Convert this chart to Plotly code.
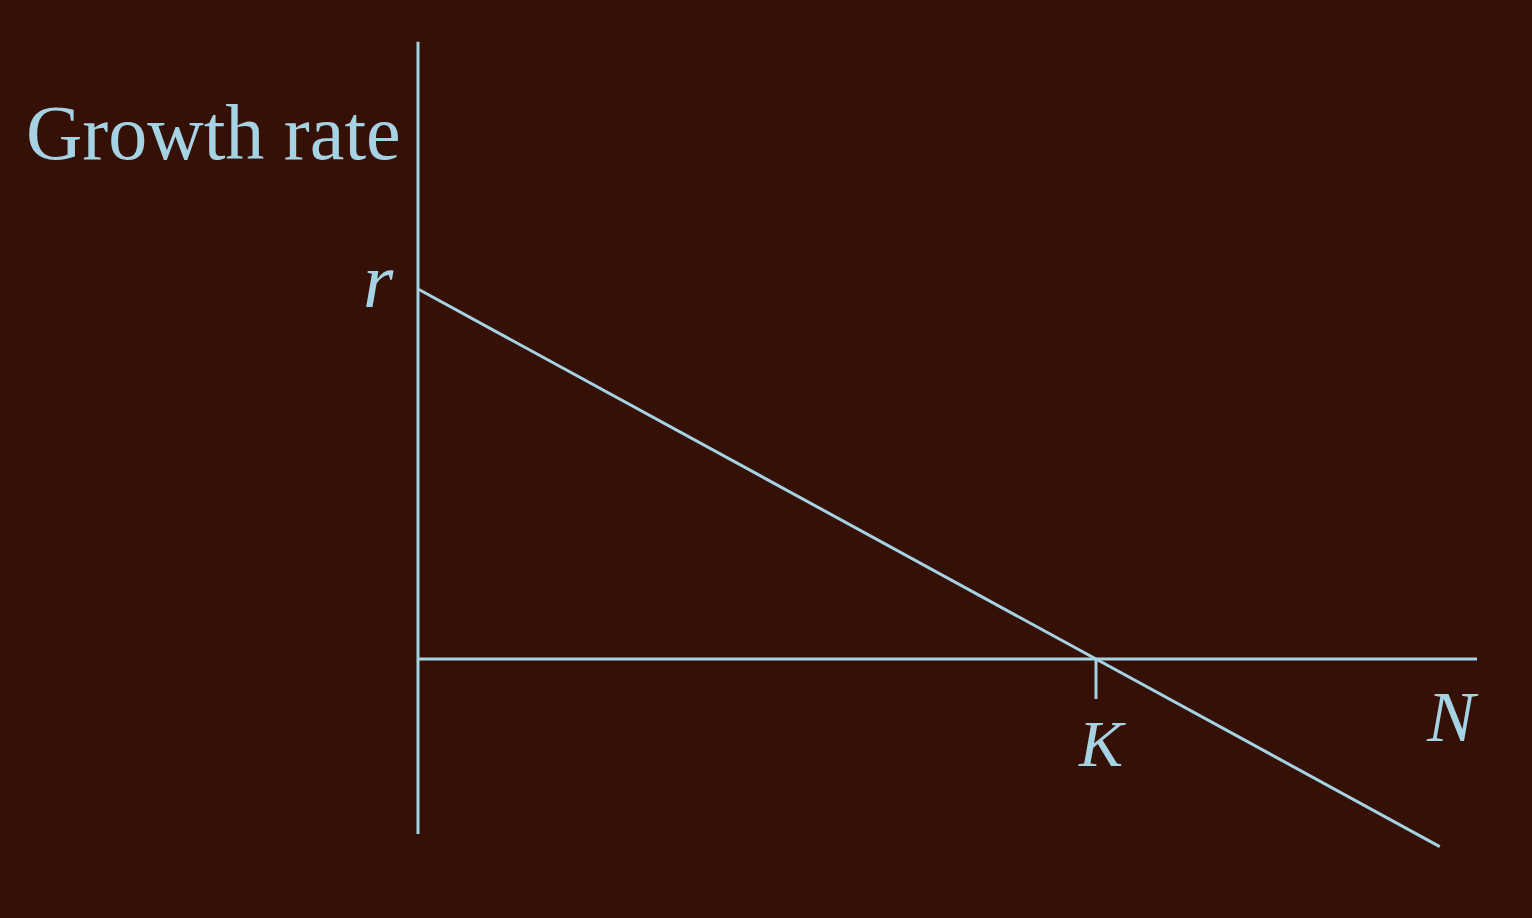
import plotly.graph_objects as go

# Data (N in units where K = 10, growth rate in units where r = 1)
r_value = 1.0
K_value = 10.0
line_N = [0.0, 15.07]
line_growth = [r_value * (1 - n / K_value) for n in line_N]

vaxis_N = [0.0, 0.0]
vaxis_growth = [-0.473, 1.668]
haxis_N = [0.0, 15.62]
haxis_growth = [0.0, 0.0]
ktick_N = [K_value, K_value]
ktick_growth = [0.0, -0.108]

BG = "#341006"
FG = "#a6d3e3"

fig = go.Figure()
for xs, ys in [(vaxis_N, vaxis_growth), (haxis_N, haxis_growth), (ktick_N, ktick_growth), (line_N, line_growth)]:
    fig.add_trace(go.Scatter(x=xs, y=ys, mode="lines",
                             line=dict(color=FG, width=3), hoverinfo="skip", showlegend=False))

serif = "Liberation Serif, Times New Roman, serif"
fig.add_annotation(x=(213 - 418) / 67.8, y=(659 - 132) / 370, xref="x", yref="y",
                   text="Growth rate", showarrow=False, xanchor="center", yanchor="middle",
                   font=dict(family=serif, size=78, color=FG))
fig.add_annotation(x=(378 - 418) / 67.8, y=(659 - 280) / 370, xref="x", yref="y",
                   text="<i>r</i>", showarrow=False, xanchor="center", yanchor="middle",
                   font=dict(family=serif, size=78, color=FG))
fig.add_annotation(x=(1102 - 418) / 67.8, y=(659 - 743) / 370, xref="x", yref="y",
                   text="<i>K</i>", showarrow=False, xanchor="center", yanchor="middle",
                   font=dict(family=serif, size=66, color=FG))
fig.add_annotation(x=(1452 - 418) / 67.8, y=(659 - 717) / 370, xref="x", yref="y",
                   text="<i>N</i>", showarrow=False, xanchor="center", yanchor="middle",
                   font=dict(family=serif, size=72, color=FG))

fig.update_xaxes(range=[-418 / 67.8, (1532 - 418) / 67.8], visible=False, fixedrange=True)
fig.update_yaxes(range=[-(918 - 659) / 370, 659 / 370], visible=False, fixedrange=True)
fig.update_layout(width=1532, height=918, margin=dict(l=0, r=0, t=0, b=0),
                  paper_bgcolor=BG, plot_bgcolor=BG)

fig.write_html("out.html", config={"displayModeBar": False},
               post_script="document.body.style.margin='0';document.body.style.overflow='hidden';"
                           "document.body.style.background='" + BG + "';")
